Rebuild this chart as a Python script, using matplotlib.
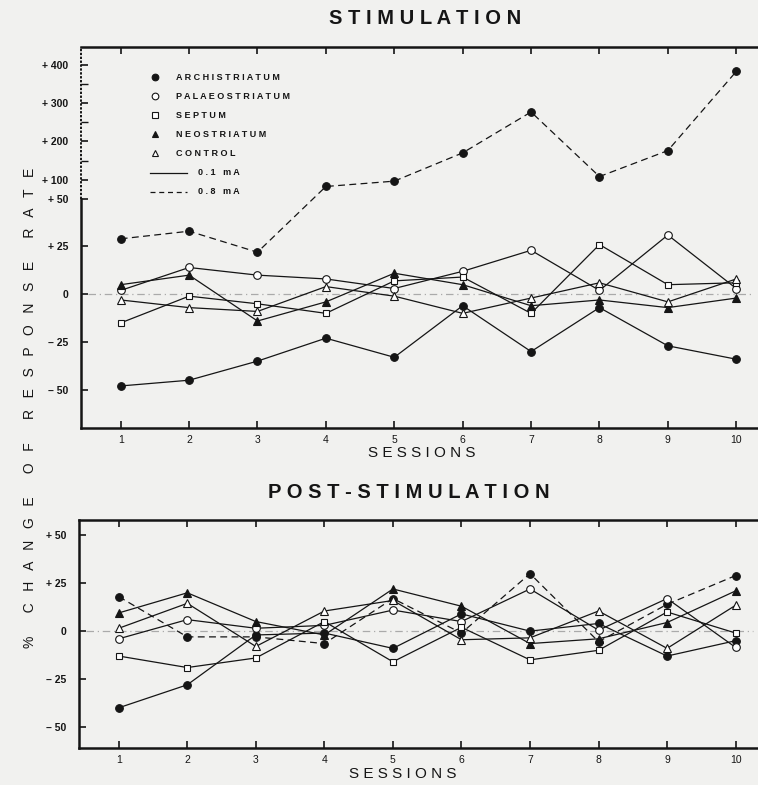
import numpy as np
import matplotlib
matplotlib.use("Agg")
import matplotlib.pyplot as plt

# ========= data =========
sessions = [1, 2, 3, 4, 5, 6, 7, 8, 9, 10]

# STIMULATION panel
stim_archi_01 = [-48, -45, -35, -23, -33, -6, -30, -7, -27, -34]
stim_archi_08 = [29, 33, 22, 82, 96, 170, 277, 108, 176, 383]
stim_palaeo = [2, 14, 10, 8, 3, 12, 23, 2, 31, 3]
stim_septum = [-15, -1, -5, -10, 7, 9, -10, 26, 5, 6]
stim_neo = [5, 10, -14, -4, 11, 5, -6, -3, -7, -2]
stim_control = [-3, -7, -9, 4, -1, -10, -2, 6, -4, 8]

# POST-STIMULATION panel
post_archi_01 = [-40, -28, -2, -1, -9, 9, 0, 4, -13, -5]
post_archi_08 = [18, -3, -3, -6.5, 17, -1, 30, -5.5, 14, 29]
post_palaeo = [-4, 6, 1.5, 3, 11, 5, 22, 0.5, 17, -8.5]
post_septum = [-13, -19, -14, 5, -16, 2, -15, -10, 10, -1]
post_neo = [9.5, 20, 5, -2, 22, 13, -6.5, -4, 4.5, 21]
post_control = [1.5, 14.5, -8, 10.5, 16, -4.5, -3.5, 10.5, -9, 13.5]

yticks_stim = [-50, -25, 0, 25, 50, 100, 200, 300, 400]
ylabels_stim = ["– 50", "– 25", "0", "+ 25", "+ 50", "+ 100", "+ 200", "+ 300", "+ 400"]
yticks_post = [-50, -25, 0, 25, 50]
ylabels_post = ["– 50", "– 25", "0", "+ 25", "+ 50"]

# ========= style =========
BG = "#f1f1ef"
INK = "#151515"
FONT = "Liberation Sans"
plt.rcParams["font.family"] = [FONT, "DejaVu Sans"]


def spaced(s, gap=" ", wgap="   "):
    return wgap.join(gap.join(w) for w in s.split(" "))


# broken y-axis above +50 in the stimulation panel
def fwd(v):
    v = np.asarray(v, dtype=float)
    return np.where(v <= 50, v, 50 + (v - 50) * 0.2)


def inv(t):
    t = np.asarray(t, dtype=float)
    return np.where(t <= 50, t, 50 + (t - 50) / 0.2)


fig = plt.figure(figsize=(7.58, 7.85), dpi=100, facecolor=BG)
ax1 = fig.add_axes([0.1069, 0.4548, 0.905, 0.4853])
ax2 = fig.add_axes([0.1042, 0.0471, 0.907, 0.2905])

series_style = [
    ("archi01", dict(marker="o", mfc=INK, ls="-")),
    ("archi08", dict(marker="o", mfc=INK, ls=(0, (5.5, 3.5)))),
    ("palaeo", dict(marker="o", mfc="white", ls="-")),
    ("septum", dict(marker="s", mfc="white", ls="-", ms=5)),
    ("neo", dict(marker="^", mfc=INK, ls="-")),
    ("control", dict(marker="^", mfc="white", ls="-")),
]

stim = dict(archi01=stim_archi_01, archi08=stim_archi_08, palaeo=stim_palaeo,
            septum=stim_septum, neo=stim_neo, control=stim_control)
post = dict(archi01=post_archi_01, archi08=post_archi_08, palaeo=post_palaeo,
            septum=post_septum, neo=post_neo, control=post_control)

for ax, data in [(ax1, stim), (ax2, post)]:
    ax.set_facecolor(BG)
    ax.axhline(0, color="#aaaaaa", lw=0.9, ls=(0, (6, 3, 1, 3)), zorder=1,
               xmin=0.01, xmax=0.98)
    for key, st in series_style:
        kw = dict(color=INK, lw=0.9, mec=INK, mew=0.8, ms=st.get("ms", 5.5), zorder=3)
        kw.update({k: v for k, v in st.items() if k != "ms"})
        ax.plot(sessions, data[key], **kw)
    ax.set_xlim(0.42, 10.45)
    ax.set_xticks(sessions)
    ax.set_xticklabels([str(s) for s in sessions], fontsize=7.5)
    ax.tick_params(axis="x", direction="in", length=5, width=1.2, top=True,
                   pad=5, colors=INK)
    ax.tick_params(axis="y", direction="in", length=5, width=1.2, pad=9,
                   colors=INK, labelsize=7.5)
    for side in ["left", "bottom", "top"]:
        ax.spines[side].set_linewidth(1.8)
        ax.spines[side].set_color(INK)
    ax.spines["right"].set_visible(False)

# --- stimulation panel axis ---
ax1.set_yscale("function", functions=(fwd, inv))
ax1.set_ylim(-70, 447)
ax1.set_yticks(yticks_stim)
ax1.set_yticklabels(ylabels_stim, fontweight="bold")
ax1.set_yticks([150, 250, 350], minor=True)
ax1.tick_params(axis="y", which="minor", direction="in", length=5, width=1.0,
                colors=INK)
ax1.spines["left"].set_bounds(-70, 50)
ax1.plot([0, 0], [50, 447], transform=ax1.get_yaxis_transform(), color=INK,
         lw=1.4, ls=(0, (1.2, 0.8)), clip_on=False, zorder=5)

# --- post-stimulation panel axis ---
ax2.set_ylim(-61, 58)
ax2.set_yticks(yticks_post)
ax2.set_yticklabels(ylabels_post, fontweight="bold")

# ========= legend (drawn by hand, as in the original) =========
leg_rows = [
    ("o", INK, "ARCHISTRIATUM"),
    ("o", "white", "PALAEOSTRIATUM"),
    ("s", "white", "SEPTUM"),
    ("^", INK, "NEOSTRIATUM"),
    ("^", "white", "CONTROL"),
]
x_mark, x_text = 155, 176
y0, dy = 77, 19.1
W, H = 758, 785
for i, (m, fc, name) in enumerate(leg_rows):
    yy = 1 - (y0 + i * dy) / H
    fig.add_artist(plt.Line2D([x_mark / W], [yy], marker=m, mfc=fc, mec=INK,
                              mew=0.8, ms=4.8 if m != "s" else 4.2, ls="none"))
    fig.text(x_text / W, yy, spaced(name), fontsize=6.5, fontweight="bold",
             color=INK, va="center", ha="left")
for j, (ls, name) in enumerate([("-", "0.1 mA"), ((0, (4, 3)), "0.8 mA")]):
    yy = 1 - (y0 + (5 + j) * dy) / H
    fig.add_artist(plt.Line2D([150 / W, 187 / W], [yy, yy], color=INK, lw=0.9, ls=ls))
    fig.text(198 / W, yy, spaced(name), fontsize=6.5,
             fontweight="bold", color=INK, va="center", ha="left")

# ========= titles and axis labels =========
fig.text(425 / W, 1 - 19 / H, spaced("STIMULATION"), fontsize=14.5,
         fontweight="bold", ha="center", va="center", color=INK)
fig.text(409 / W, 1 - 493 / H, spaced("POST-STIMULATION"), fontsize=14.5,
         fontweight="bold", ha="center", va="center", color=INK)
fig.text(422 / W, 1 - 453 / H, spaced("SESSIONS"), fontsize=11,
         ha="center", va="center", color=INK)
fig.text(403 / W, 1 - 774 / H, spaced("SESSIONS"), fontsize=11,
         ha="center", va="center", color=INK)
fig.text(30 / W, 1 - 408 / H,
         spaced("% CHANGE OF RESPONSE RATE", gap="   ", wgap="      "),
         fontsize=10, rotation=90, ha="center", va="center", color=INK)

fig.savefig("out.png", dpi=100, facecolor=BG)
